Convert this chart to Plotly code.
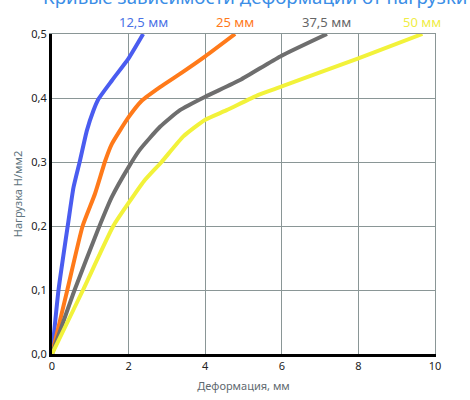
import plotly.graph_objects as go

# Curves: deformation (mm) vs load (N/mm2) for layer thickness
blue_x = [0, 0.17, 0.43, 0.56, 0.73, 0.91, 1.08, 1.21, 1.56, 2.0, 2.38]
blue_y = [0, 0.10, 0.208, 0.26, 0.302, 0.349, 0.38, 0.398, 0.427, 0.462, 0.50]

orange_x = [0, 0.40, 0.80, 1.12, 1.39, 1.56, 2.0, 2.35, 2.82, 3.4, 4.0, 4.78]
orange_y = [0, 0.10, 0.20, 0.25, 0.302, 0.328, 0.37, 0.396, 0.417, 0.44, 0.465, 0.50]

gray_x = [0, 0.59, 1.2, 1.56, 2.0, 2.29, 2.82, 3.34, 4.0, 4.91, 5.96, 7.18]
gray_y = [0, 0.10, 0.194, 0.245, 0.292, 0.319, 0.355, 0.381, 0.402, 0.428, 0.465, 0.50]

yellow_x = [0, 0.81, 1.6, 2.0, 2.4, 2.86, 3.43, 4.0, 4.56, 5.39, 6.0, 8.0, 9.67]
yellow_y = [0, 0.10, 0.20, 0.236, 0.27, 0.30, 0.34, 0.366, 0.381, 0.405, 0.418, 0.462, 0.50]

series_names = ['12,5 мм', '25 мм', '37,5 мм', '50 мм']
line_colors = ['#4a5cf0', '#ff7a1a', '#6e6e6e', '#f2f23a']
label_colors = ['#4a72e6', '#ff7a1a', '#666666', '#efed45']

x_ticks = [0, 2, 4, 6, 8, 10]
y_ticks = [0, 0.1, 0.2, 0.3, 0.4, 0.5]
y_ticktext = ['0,0', '0,1', '0,2', '0,3', '0,4', '0,5']

FONT = 'Noto Sans'
GRID = '#8a9696'

fig = go.Figure()

curves = [(blue_x, blue_y), (orange_x, orange_y), (gray_x, gray_y), (yellow_x, yellow_y)]
for (xs, ys), name, color in zip(curves, series_names, line_colors):
    fig.add_trace(go.Scatter(
        x=xs, y=ys, mode='lines', name=name,
        line=dict(color=color, width=4, shape='spline', smoothing=0.5),
        showlegend=False
    ))

# labels above the end of each curve
for (xs, ys), name, color in zip(curves, series_names, label_colors):
    fig.add_annotation(
        x=xs[-1], y=ys[-1], text=name, showarrow=False,
        xanchor='center', yanchor='bottom', yshift=1,
        font=dict(family=FONT, size=13, color=color)
    )

# title, cut off at the top of the picture
fig.add_annotation(
    x=0.5, y=1, xref='paper', yref='paper', xshift=11, yshift=38,
    text='Кривые зависимости деформации от нагрузки', showarrow=False,
    xanchor='center', yanchor='middle',
    font=dict(family=FONT, size=18.7, color='#3b8ee6')
)

fig.update_layout(
    width=470, height=400,
    margin=dict(l=52, r=35, t=34, b=46),
    plot_bgcolor='white', paper_bgcolor='white',
    font=dict(family=FONT, size=11, color='#222222'),
    xaxis=dict(
        range=[0, 10], tickvals=x_ticks, automargin=False,
        showgrid=True, gridcolor=GRID, gridwidth=1.3,
        showline=True, linecolor='black', linewidth=3,
        zeroline=False, ticks='',
        tickfont=dict(size=11, color='#222222'),
        title=dict(text='Деформация, мм', standoff=11,
                   font=dict(size=11, color='#5f6a70'))
    ),
    yaxis=dict(
        range=[0, 0.5], tickvals=y_ticks, ticktext=y_ticktext, automargin=False,
        showgrid=True, gridcolor=GRID, gridwidth=1.3,
        showline=True, linecolor='black', linewidth=3,
        zeroline=False, ticks='',
        tickfont=dict(size=11, color='#222222'),
        title=dict(text='Нагрузка Н/мм2', standoff=7,
                   font=dict(size=11, color='#5f7580'))
    ),
    # overlay axes only used to draw the grey frame on top and right
    xaxis2=dict(overlaying='x', side='top', range=[0, 10], showline=True,
                linecolor=GRID, linewidth=1.3, showticklabels=False,
                showgrid=False, zeroline=False, ticks=''),
    yaxis2=dict(overlaying='y', side='right', range=[0, 0.5], showline=True,
                linecolor=GRID, linewidth=1.3, showticklabels=False,
                showgrid=False, zeroline=False, ticks=''),
)

# invisible trace to activate the overlay axes
fig.add_trace(go.Scatter(x=[None], y=[None], xaxis='x2', yaxis='y2',
                         showlegend=False, hoverinfo='skip'))

fig.write_html('out.html', config={'displayModeBar': False},
               post_script="document.body.style.margin='0';")
